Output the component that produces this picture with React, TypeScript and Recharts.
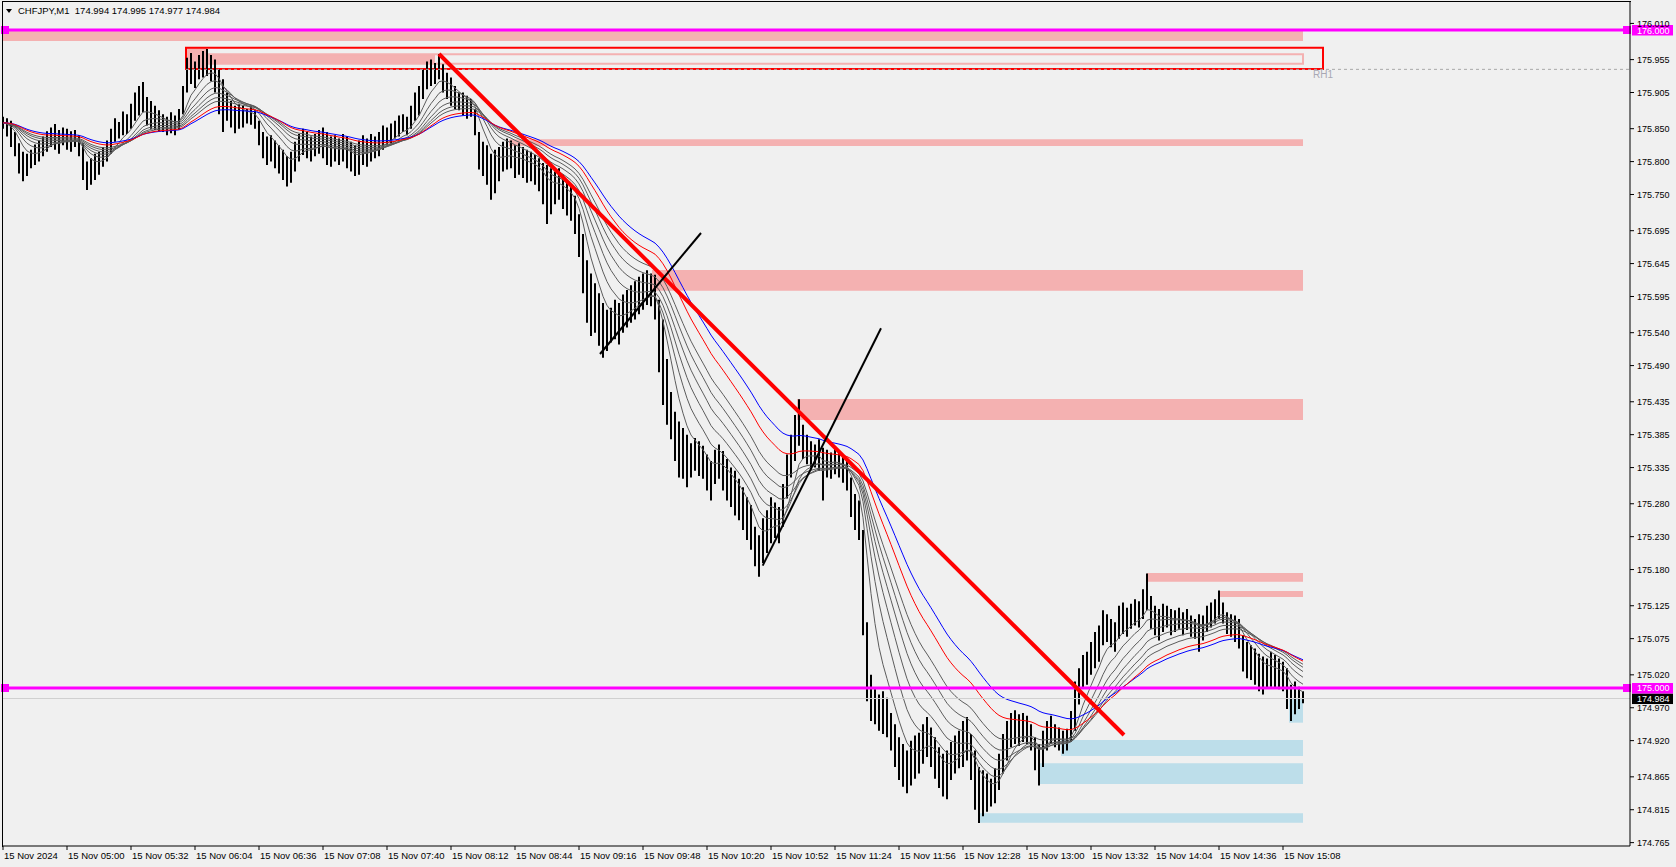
import { Bar, ComposedChart, Line, ReferenceArea, ReferenceLine, XAxis, YAxis } from "recharts"

// CHFJPY M1, 15 Nov 2024, sampled as 2-minute bars from 04:28 (minute 0)
const barStep = 2

const highs = [
  175.868, 175.866, 175.862, 175.845, 175.828,
  175.815, 175.812, 175.818, 175.826, 175.832,
  175.838, 175.846, 175.852, 175.857, 175.848,
  175.852, 175.850, 175.846, 175.848, 175.840,
  175.828, 175.800, 175.805, 175.812, 175.815,
  175.822, 175.832, 175.850, 175.866, 175.860,
  175.876, 175.872, 175.888, 175.905, 175.915,
  175.921, 175.898, 175.892, 175.885, 175.878,
  175.872, 175.868, 175.875, 175.870, 175.880,
  175.915, 175.958, 175.965, 175.952, 175.962,
  175.968, 175.971, 175.962, 175.955, 175.940,
  175.925, 175.905, 175.892, 175.885, 175.888,
  175.885, 175.880, 175.884, 175.878, 175.862,
  175.845, 175.838, 175.840, 175.832, 175.825,
  175.818, 175.808, 175.815, 175.830, 175.842,
  175.850, 175.845, 175.838, 175.842, 175.848,
  175.852, 175.845, 175.838, 175.840, 175.835,
  175.842, 175.838, 175.830, 175.825, 175.832,
  175.840, 175.835, 175.842, 175.838, 175.845,
  175.855, 175.852, 175.858, 175.862, 175.870,
  175.872, 175.868, 175.885, 175.905, 175.915,
  175.940, 175.952, 175.955, 175.950, 175.963,
  175.948, 175.935, 175.928, 175.915, 175.905,
  175.905, 175.900, 175.895, 175.880, 175.845,
  175.830, 175.825, 175.812, 175.818, 175.822,
  175.830, 175.835, 175.832, 175.825, 175.828,
  175.822, 175.818, 175.815, 175.810, 175.805,
  175.798, 175.795, 175.790, 175.785, 175.790,
  175.780, 175.772, 175.765, 175.748, 175.720,
  175.690, 175.650, 175.630, 175.615, 175.600,
  175.585, 175.575, 175.578, 175.590, 175.585,
  175.598, 175.605, 175.612, 175.618, 175.625,
  175.630, 175.635, 175.630, 175.628, 175.590,
  175.560, 175.500, 175.450, 175.420, 175.405,
  175.395, 175.385, 175.372, 175.380, 175.375,
  175.368, 175.355, 175.345, 175.362, 175.370,
  175.360, 175.348, 175.335, 175.330, 175.318,
  175.305, 175.290, 175.278, 175.245, 175.232,
  175.258, 175.270, 175.290, 175.282, 175.275,
  175.310, 175.355, 175.385, 175.415, 175.439,
  175.400, 175.385, 175.375, 175.370, 175.378,
  175.365, 175.362, 175.358, 175.365, 175.360,
  175.355, 175.348, 175.320, 175.295, 175.285,
  175.240, 175.100, 175.020, 174.998, 174.990,
  174.995, 174.985, 174.962, 174.945, 174.925,
  174.915, 174.905, 174.920, 174.928, 174.932,
  174.945, 174.956, 174.940, 174.925, 174.910,
  174.900, 174.905, 174.918, 174.928, 174.935,
  174.950, 174.956, 174.930, 174.905, 174.880,
  174.875, 174.870, 174.862, 174.878, 174.900,
  174.930, 174.950, 174.962, 174.966, 174.960,
  174.962, 174.958, 174.945, 174.925, 174.915,
  174.935, 174.950, 174.958, 174.945, 174.940,
  174.935, 174.938, 174.965, 175.010, 175.030,
  175.050, 175.055, 175.070, 175.085, 175.095,
  175.118, 175.112, 175.105, 175.100, 175.125,
  175.130, 175.122, 175.128, 175.135, 175.132,
  175.150, 175.174, 175.140, 175.125, 175.120,
  175.128, 175.125, 175.120, 175.118, 175.122,
  175.115, 175.120, 175.110, 175.105, 175.112,
  175.110, 175.125, 175.130, 175.135, 175.148,
  175.130, 175.115, 175.112, 175.110, 175.105,
  175.080, 175.070, 175.065, 175.060, 175.052,
  175.048, 175.045, 175.055, 175.050, 175.045,
  175.040, 175.030, 175.005, 175.010, 175.002, 174.995,
]

const lows = [
  175.850, 175.838, 175.822, 175.808, 175.782,
  175.770, 175.778, 175.790, 175.795, 175.800,
  175.808, 175.815, 175.822, 175.818, 175.812,
  175.825, 175.818, 175.815, 175.822, 175.808,
  175.772, 175.757, 175.765, 175.772, 175.780,
  175.792, 175.800, 175.812, 175.830, 175.835,
  175.840, 175.842, 175.850, 175.862, 175.870,
  175.875, 175.855, 175.850, 175.848, 175.846,
  175.845, 175.840, 175.843, 175.840, 175.848,
  175.872, 175.905, 175.918, 175.912, 175.925,
  175.928, 175.930, 175.922, 175.905, 175.872,
  175.845, 175.862, 175.852, 175.843, 175.850,
  175.852, 175.858, 175.856, 175.850, 175.825,
  175.805, 175.795, 175.800, 175.790, 175.782,
  175.772, 175.762, 175.768, 175.785, 175.800,
  175.810, 175.805, 175.800, 175.808, 175.812,
  175.805, 175.795, 175.792, 175.800, 175.795,
  175.800, 175.790, 175.785, 175.778, 175.780,
  175.795, 175.792, 175.800, 175.805, 175.808,
  175.818, 175.825, 175.828, 175.835, 175.838,
  175.845, 175.840, 175.850, 175.862, 175.870,
  175.895, 175.910, 175.915, 175.918, 175.925,
  175.905, 175.895, 175.885, 175.880, 175.878,
  175.870, 175.865, 175.868, 175.840, 175.788,
  175.778, 175.765, 175.742, 175.752, 175.770,
  175.785, 175.788, 175.790, 175.775, 175.780,
  175.775, 175.768, 175.770, 175.765, 175.755,
  175.735, 175.705, 175.720, 175.735, 175.742,
  175.728, 175.718, 175.710, 175.690, 175.655,
  175.600, 175.555, 175.535, 175.540, 175.520,
  175.502, 175.512, 175.525, 175.530, 175.522,
  175.540, 175.548, 175.555, 175.560, 175.568,
  175.575, 175.582, 175.580, 175.560, 175.480,
  175.430, 175.400, 175.378, 175.345, 175.320,
  175.318, 175.305, 175.320, 175.330, 175.322,
  175.318, 175.300, 175.285, 175.310, 175.318,
  175.300, 175.285, 175.275, 175.262, 175.255,
  175.240, 175.225, 175.210, 175.185, 175.169,
  175.190, 175.205, 175.220, 175.228, 175.220,
  175.245, 175.288, 175.320, 175.345, 175.368,
  175.348, 175.340, 175.332, 175.335, 175.330,
  175.285, 175.320, 175.318, 175.325, 175.320,
  175.312, 175.300, 175.260, 175.240, 175.225,
  175.080, 174.980, 174.950, 174.945, 174.935,
  174.930, 174.925, 174.905, 174.880, 174.860,
  174.850, 174.840, 174.852, 174.862, 174.870,
  174.885, 174.895, 174.880, 174.862, 174.848,
  174.835, 174.831, 174.860, 174.870, 174.878,
  174.880, 174.890, 174.860, 174.815, 174.795,
  174.805, 174.812, 174.820, 174.825, 174.845,
  174.870, 174.890, 174.910, 174.915, 174.912,
  174.918, 174.915, 174.905, 174.875, 174.852,
  174.880, 174.905, 174.915, 174.910, 174.905,
  174.900, 174.905, 174.918, 174.935, 174.975,
  175.000, 175.005, 175.020, 175.030, 175.040,
  175.065, 175.070, 175.062, 175.055, 175.075,
  175.082, 175.078, 175.090, 175.095, 175.092,
  175.105, 175.118, 175.090, 175.080, 175.072,
  175.085, 175.092, 175.080, 175.085, 175.090,
  175.080, 175.088, 175.078, 175.075, 175.055,
  175.072, 175.085, 175.092, 175.098, 175.105,
  175.098, 175.082, 175.078, 175.070, 175.060,
  175.025, 175.015, 175.012, 175.005, 174.995,
  174.990, 175.000, 175.002, 175.000, 174.998,
  174.995, 174.968, 174.950, 174.960, 174.968, 174.977,
]

const timeTicks = [0, 32, 64, 96, 128, 160, 192, 224, 256, 288, 320, 352, 384, 416, 448, 480, 512, 544, 576, 608, 640]
const timeLabels = [
  "15 Nov 2024", "15 Nov 05:00", "15 Nov 05:32", "15 Nov 06:04", "15 Nov 06:36", "15 Nov 07:08",
  "15 Nov 07:40", "15 Nov 08:12", "15 Nov 08:44", "15 Nov 09:16", "15 Nov 09:48", "15 Nov 10:20",
  "15 Nov 10:52", "15 Nov 11:24", "15 Nov 11:56", "15 Nov 12:28", "15 Nov 13:00", "15 Nov 13:32",
  "15 Nov 14:04", "15 Nov 14:36", "15 Nov 15:08",
]
const priceTicks = [
  176.01, 175.955, 175.905, 175.85, 175.8, 175.75, 175.695, 175.645, 175.595, 175.54, 175.49, 175.435,
  175.385, 175.335, 175.28, 175.23, 175.18, 175.125, 175.075, 175.02, 174.97, 174.92, 174.865, 174.815, 174.765,
]

// moving averages (periods in minutes)
const greyPeriods = [13, 22, 31, 40, 49, 58]
const redPeriod = 75
const bluePeriod = 90

// drawn objects, x in minutes from 04:28, y in price
const supplyZones = [
  { from: -0.5, to: 650, lo: 175.9833, hi: 176.0 },
  { from: 253, to: 650, lo: 175.8237, hi: 175.8339 },
  { from: 324.5, to: 650, lo: 175.6038, hi: 175.6353 },
  { from: 397, to: 650, lo: 175.4073, hi: 175.4392 },
  { from: 572, to: 650, lo: 175.1616, hi: 175.1748 },
  { from: 607.5, to: 650, lo: 175.1383, hi: 175.1474 },
  { from: 91.5, to: 102, lo: 175.9407, hi: 175.9731 },
  { from: 102, to: 216, lo: 175.9488, hi: 175.9631 },
]
const demandZones = [
  { from: 643, to: 650, lo: 174.9473, hi: 174.9833 },
  { from: 529, to: 650, lo: 174.8967, hi: 174.921 },
  { from: 518, to: 650, lo: 174.8541, hi: 174.8856 },
  { from: 488, to: 650, lo: 174.7953, hi: 174.8096 },
]
const topBox = { from: 91.5, to: 660, lo: 175.9407, hi: 175.9731 }
const topBand = { from: 102, to: 650, lo: 175.9488, hi: 175.9631 }
const rh1Level = 175.9402
const downTrend = [{ x: 218, y: 175.9635 }, { x: 560.5, y: 174.9286 }]
const upLeg1 = [{ x: 298.5, y: 175.5076 }, { x: 349, y: 175.6915 }]
const upLeg2 = [{ x: 379.85, y: 175.1859 }, { x: 439, y: 175.5467 }]
const roundLevels = [176.0, 175.0]
const bid = 174.984

const ema = (src: number[], period: number) => {
  const k = 1 - Math.pow(1 - 2 / (period + 1), barStep)
  const out: number[] = []
  src.forEach((v, i) => out.push(i === 0 ? v : out[i - 1] + k * (v - out[i - 1])))
  return out
}

const closes = highs.map((h, i) => (h + lows[i]) / 2)
const allPeriods = [...greyPeriods, redPeriod, bluePeriod]
const emaSeries = allPeriods.map((p) => ema(closes, p))

const data = highs.map((h, i) => {
  const row: Record<string, any> = { m: i * barStep, range: [lows[i], h] }
  allPeriods.forEach((p, j) => (row["e" + p] = emaSeries[j][i]))
  return row
})

const font = "Liberation Sans, Arial, sans-serif"
const pink = "#f4b1b1"
const blue = "#bddeea"
const magenta = "#ff00ff"

const TimeTick = ({ x, y, payload }: any) => (
  <text x={x + 1} y={y + 9} fontSize={9.5} fontFamily={font} fill="#000" textAnchor="start">
    {timeLabels[timeTicks.indexOf(payload.value)]}
  </text>
)

const PriceTick = ({ x, y, payload }: any) => (
  <text x={x + 3} y={y + 3.5} fontSize={9} fontFamily={font} fill="#000" textAnchor="start">
    {Number(payload.value).toFixed(3)}
  </text>
)

const PriceTag = ({ viewBox, text, bg, handles }: any) => {
  if (!viewBox) return null
  const { x, y, width } = viewBox
  const right = x + width
  return (
    <g>
      {handles && <rect x={x - 1} y={y - 4} width={8} height={8} fill={bg} />}
      {handles && <rect x={right - 7} y={y - 4} width={8} height={8} fill={bg} />}
      <rect x={right + 2} y={y - 5} width={41} height={10.5} fill={bg} />
      <text x={right + 7} y={y + 3.5} fontSize={9} fontFamily={font} fill="#fff">
        {text}
      </text>
    </g>
  )
}

const Rh1Label = ({ viewBox }: any) => {
  if (!viewBox) return null
  const { x, y, width, height } = viewBox
  return (
    <text x={x + width - 10} y={y + height + 9} fontSize={10} fontFamily={font} fill="#a8a8b4">
      RH1
    </text>
  )
}

export default function App() {
  return (
    <div style={{ position: "absolute", left: 0, top: 0, width: 1676, height: 867, background: "#f0f0f0", overflow: "hidden" }}>
      <ComposedChart width={1676} height={867} data={data} margin={{ top: 1, right: 0, bottom: 0, left: 2 }}>
        <XAxis
          type="number"
          dataKey="m"
          domain={[-0.5, 813.5]}
          allowDataOverflow
          ticks={timeTicks}
          interval={0}
          tickSize={4}
          tickMargin={0}
          height={21}
          stroke="#000"
          tick={<TimeTick />}
        />
        <YAxis
          orientation="right"
          type="number"
          domain={[174.759878, 176.044073]}
          allowDataOverflow
          ticks={priceTicks}
          interval={0}
          width={46}
          tickSize={4}
          tickMargin={0}
          stroke="#000"
          tick={<PriceTick />}
        />

        {supplyZones.map((z, i) => (
          <ReferenceArea key={"s" + i} x1={z.from} x2={z.to} y1={z.lo} y2={z.hi} fill={pink} fillOpacity={1} ifOverflow="visible" />
        ))}
        {demandZones.map((z, i) => (
          <ReferenceArea key={"d" + i} x1={z.from} x2={z.to} y1={z.lo} y2={z.hi} fill={blue} fillOpacity={1} ifOverflow="visible" />
        ))}
        <ReferenceArea x1={topBand.from} x2={topBand.to} y1={topBand.lo} y2={topBand.hi} fill="none" stroke={pink} strokeWidth={2} ifOverflow="visible" />
        <ReferenceArea
          x1={topBox.from}
          x2={topBox.to}
          y1={topBox.lo}
          y2={topBox.hi}
          fill="none"
          stroke="#ff0000"
          strokeWidth={2}
          ifOverflow="visible"
          label={<Rh1Label />}
        />

        <Bar dataKey="range" fill="#000" barSize={2} isAnimationActive={false} />

        {greyPeriods.map((p) => (
          <Line key={p} type="linear" dataKey={"e" + p} stroke="#5c5c5c" strokeWidth={1} dot={false} isAnimationActive={false} />
        ))}
        <Line type="linear" dataKey={"e" + bluePeriod} stroke="#0000ff" strokeWidth={1} dot={false} isAnimationActive={false} />
        <Line type="linear" dataKey={"e" + redPeriod} stroke="#ff0000" strokeWidth={1} dot={false} isAnimationActive={false} />

        <ReferenceLine
          segment={[{ x: topBox.from, y: rh1Level }, { x: 813.5, y: rh1Level }]}
          stroke="#a8a8a8"
          strokeDasharray="3 3"
          ifOverflow="visible"
        />
        <ReferenceLine y={bid} stroke="#d0d0d0" strokeWidth={1} label={<PriceTag text="174.984" bg="#000" />} />
        {roundLevels.map((lv) => (
          <ReferenceLine
            key={lv}
            y={lv}
            stroke={magenta}
            strokeWidth={3}
            label={<PriceTag text={lv.toFixed(3)} bg={magenta} handles />}
          />
        ))}
        <ReferenceLine segment={downTrend} stroke="#ff0000" strokeWidth={4} ifOverflow="visible" />
        <ReferenceLine segment={upLeg1} stroke="#000" strokeWidth={2} ifOverflow="visible" />
        <ReferenceLine segment={upLeg2} stroke="#000" strokeWidth={2} ifOverflow="visible" />
      </ComposedChart>

      <div style={{ position: "absolute", left: 2, top: 1, width: 1628, height: 845, borderLeft: "1px solid #000", borderTop: "1px solid #000", pointerEvents: "none" }} />
      <div style={{ position: "absolute", left: 6, top: 9, width: 0, height: 0, borderLeft: "3.5px solid transparent", borderRight: "3.5px solid transparent", borderTop: "4px solid #000" }} />
      <div style={{ position: "absolute", left: 18, top: 5, fontFamily: font, fontSize: 9.5, color: "#000", whiteSpace: "pre", lineHeight: "12px" }}>
        {"CHFJPY,M1  174.994 174.995 174.977 174.984"}
      </div>
    </div>
  )
}
